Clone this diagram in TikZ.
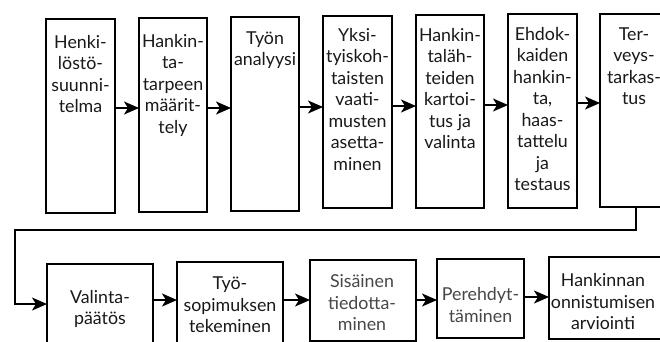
\documentclass[tikz,border=0pt]{standalone}
\usepackage{fontspec}
\setmainfont{Lato}
\usetikzlibrary{arrows.meta,calc}
\tikzset{
  box/.style={draw=black, line width=1.2pt, inner sep=0pt, outer sep=0pt, anchor=north west, fill=white},
  txt/.style={align=center, inner sep=0pt, font=\fontsize{17.8}{21.5}\selectfont, text=black!90},
  fadedtxt/.style={txt, text=black!72},
  flow/.style={line width=1.7pt, -{Stealth[length=15pt,width=13pt,inset=4pt]}},
}
\begin{document}
\begin{tikzpicture}[x=1pt,y=-1pt]
\useasboundingbox (0,0) rectangle (660,341);
\fill[white] (0,0) rectangle (660,341);
\clip (0,0) rectangle (660,341);
% top row boxes
\node[box, minimum width=69pt, minimum height=194pt] (b1) at (46,19) {};
\node[box, minimum width=68pt, minimum height=194pt] (b2) at (139,18) {};
\node[box, minimum width=68pt, minimum height=194pt] (b3) at (231,17) {};
\node[box, minimum width=69pt, minimum height=192pt] (b4) at (323,16) {};
\node[box, minimum width=68pt, minimum height=193pt] (b5) at (416,15) {};
\node[box, minimum width=69pt, minimum height=194pt] (b6) at (508,14) {};
\node[box, minimum width=68pt, minimum height=193pt] (b7) at (600,14) {};
% top row texts
\node[txt, anchor=north] (t1) at ($(b1.north)+(0,14)$) {\strut Henki-\\löstö-\\suunni-\\telma};
\node[txt, anchor=north] (t2) at ($(b2.north)+(0,14)$) {\strut Hankin-\\ta-\\tarpeen\\määrit-\\tely};
\node[txt, anchor=north] (t3) at ($(b3.north)+(0,12)$) {\strut Työn\\analyysi};
\node[txt, anchor=north] (t4) at ($(b4.north)+(0,10)$) {\strut Yksi-\\tyiskoh-\\taisten\\vaati-\\musten\\asetta-\\minen};
\node[txt, anchor=north] (t5) at ($(b5.north)+(0,11)$) {\strut Hankin-\\taläh-\\teiden\\kartoi-\\tus ja\\valinta};
\node[txt, anchor=north] (t6) at ($(b6.north)+(0,11)$) {\strut Ehdok-\\kaiden\\hankin-\\ta,\\haas-\\tattelu\\ja\\testaus};
\node[txt, anchor=north] (t7) at ($(b7.north)+(0,11)$) {\strut Ter-\\veys-\\tarkas-\\tus};
% bottom row boxes
\node[box, minimum width=106pt, minimum height=82pt] (c1) at (47,264) {};
\node[box, minimum width=106pt, minimum height=82pt] (c2) at (177,262) {};
\node[box, minimum width=106pt, minimum height=81pt] (c3) at (310,260) {};
\node[box, minimum width=87pt, minimum height=79pt] (c4) at (437,259) {};
\node[box, minimum width=123pt, minimum height=82pt] (c5) at (549,257) {};
% bottom row texts
\node[txt] (u1) at (100,309) {Valinta-\\päätös};
\node[txt] (u2) at (230,305) {Työ-\\sopimuksen\\tekeminen};
\node[fadedtxt] (u3) at (362,303) {Sisäinen\\tiedotta-\\minen};
\node[fadedtxt] (u4) at (480.5,305) {Perehdyt-\\täminen};
\node[txt] (u5) at (603,302) {Hankinnan\\onnistumisen\\arviointi};
% top row connectors
\draw[flow] (b1.east |- 0,108) -- (b2.west |- 0,108);
\draw[flow] (b2.east |- 0,108) -- (b3.west |- 0,108);
\draw[flow] (b3.east |- 0,107) -- (b4.west |- 0,107);
\draw[flow] (b4.east |- 0,106) -- (b5.west |- 0,106);
\draw[flow] (b5.east |- 0,105) -- (b6.west |- 0,105);
\draw[flow] (b6.east |- 0,103) -- (b7.west |- 0,103);
% loop connector
\coordinate (k1) at (636,230);
\coordinate (k2) at (15,230);
\coordinate (k3) at (15,304);
\draw[flow] (b7.south -| k1) -- (k1) -- (k2) -- (k3) -- (c1.west |- k3);
% bottom row connectors
\draw[flow] (c1.east |- 0,300) -- (c2.west |- 0,300);
\draw[flow] (c2.east |- 0,300) -- (c3.west |- 0,300);
\draw[flow] (c3.east |- 0,300) -- (c4.west |- 0,300);
\draw[flow] (c4.east |- 0,297) -- (c5.west |- 0,297);
\end{tikzpicture}
\end{document}
